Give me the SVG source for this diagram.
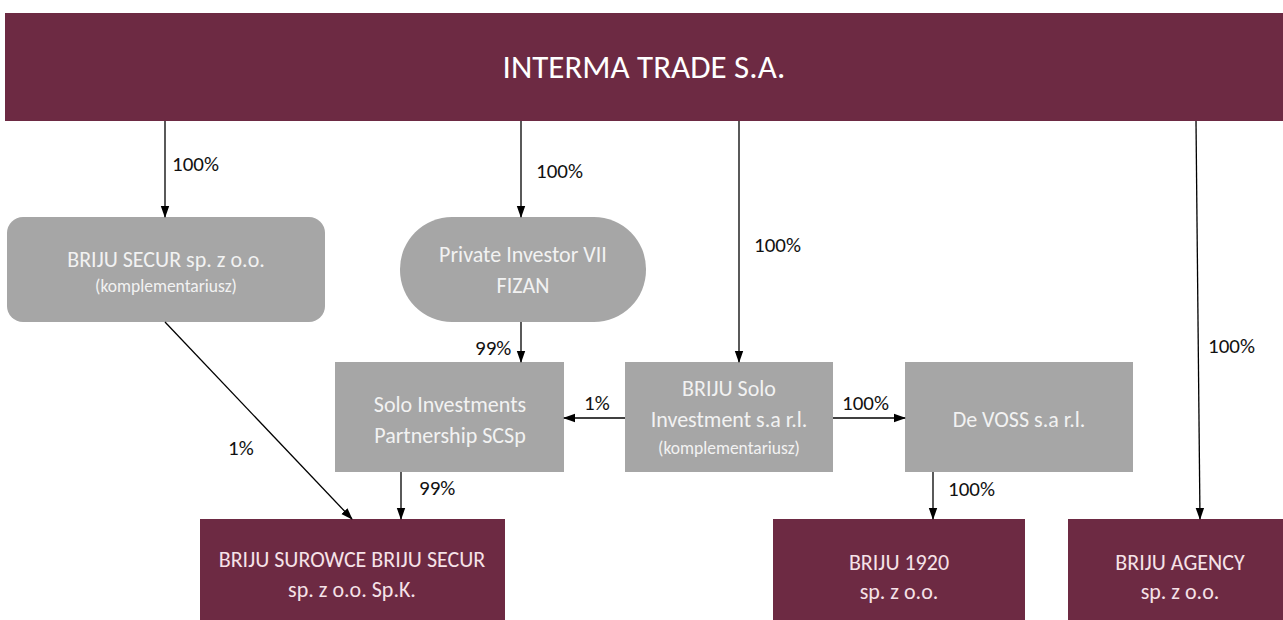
<svg xmlns="http://www.w3.org/2000/svg" width="1283" height="620" viewBox="0 0 1283 620">
<defs>
<marker id="ah" markerWidth="12" markerHeight="10" refX="11" refY="5" orient="auto" markerUnits="userSpaceOnUse">
<path d="M0,0.8 L12,5 L0,9.2 Z" fill="#000"/>
</marker>
<style>
.maroon{fill:#6d2a43}
.gray{fill:#a6a6a6}
text{font-family:"Carlito","Liberation Sans Narrow","Liberation Sans",sans-serif;text-anchor:middle}
.wt{fill:#f2f2f2;font-size:22px}
.pt{fill:#f6e2e8;font-size:22px}
.sm{fill:#f2f2f2;font-size:17.5px}
.lbl{fill:#111;font-size:21px;text-anchor:start}
.edge{stroke:#000;stroke-width:1.3;fill:none;marker-end:url(#ah)}
</style>
</defs>
<rect width="1283" height="620" fill="#fff"/>
<g id="interma">
<rect class="maroon" x="5" y="13" width="1278" height="108"/>
<text x="644" y="78" style="fill:#fff;font-size:33px">INTERMA TRADE S.A.</text>
</g>
<g id="briju-secur">
<rect class="gray" x="7" y="217" width="318" height="105" rx="16"/>
<text class="wt" x="166" y="267">BRIJU SECUR sp. z o.o.</text>
<text class="sm" x="166" y="292">(komplementariusz)</text>
</g>
<g id="private-investor">
<rect class="gray" x="400" y="217" width="246" height="105" rx="52"/>
<text class="wt" x="523" y="262">Private Investor VII</text>
<text class="wt" x="523" y="293">FIZAN</text>
</g>
<g id="solo-investments">
<rect class="gray" x="335" y="362" width="229" height="110"/>
<text class="wt" x="450" y="412">Solo Investments</text>
<text class="wt" x="450" y="443">Partnership SCSp</text>
</g>
<g id="briju-solo">
<rect class="gray" x="625" y="362" width="208" height="110"/>
<text class="wt" x="729" y="396">BRIJU Solo</text>
<text class="wt" x="729" y="427">Investment s.a r.l.</text>
<text class="sm" x="729" y="454">(komplementariusz)</text>
</g>
<g id="de-voss">
<rect class="gray" x="905" y="362" width="228" height="110"/>
<text class="wt" x="1019" y="427">De VOSS s.a r.l.</text>
</g>
<g id="briju-surowce">
<rect class="maroon" x="200" y="519" width="305" height="101"/>
<text class="pt" x="352" y="567">BRIJU SUROWCE BRIJU SECUR</text>
<text class="pt" x="352" y="597">sp. z o.o. Sp.K.</text>
</g>
<g id="briju-1920">
<rect class="maroon" x="773" y="519" width="252" height="101"/>
<text class="pt" x="899" y="570">BRIJU 1920</text>
<text class="pt" x="899" y="599">sp. z o.o.</text>
</g>
<g id="briju-agency">
<rect class="maroon" x="1068" y="519" width="215" height="101"/>
<text class="pt" x="1180" y="570">BRIJU AGENCY</text>
<text class="pt" x="1180" y="599">sp. z o.o.</text>
</g>
<g id="connectors">
<line class="edge" x1="165" y1="121" x2="165" y2="217"/>
<line class="edge" x1="521" y1="121" x2="521" y2="217"/>
<line class="edge" x1="739" y1="121" x2="739" y2="362"/>
<line class="edge" x1="1196" y1="121" x2="1200" y2="519"/>
<line class="edge" x1="521" y1="322" x2="521" y2="362"/>
<line class="edge" x1="625" y1="418" x2="564" y2="418"/>
<line class="edge" x1="833" y1="418" x2="905" y2="418"/>
<line class="edge" x1="933" y1="472" x2="933" y2="519"/>
<line class="edge" x1="401" y1="472" x2="401" y2="519"/>
<line class="edge" x1="165" y1="322" x2="352" y2="519"/>
<text class="lbl" x="172" y="171">100%</text>
<text class="lbl" x="536" y="178">100%</text>
<text class="lbl" x="754" y="252">100%</text>
<text class="lbl" x="1208" y="353">100%</text>
<text class="lbl" x="475" y="355">99%</text>
<text class="lbl" x="584" y="410">1%</text>
<text class="lbl" x="842" y="410">100%</text>
<text class="lbl" x="948" y="496">100%</text>
<text class="lbl" x="419" y="495">99%</text>
<text class="lbl" x="228" y="455">1%</text>
</g>
</svg>
